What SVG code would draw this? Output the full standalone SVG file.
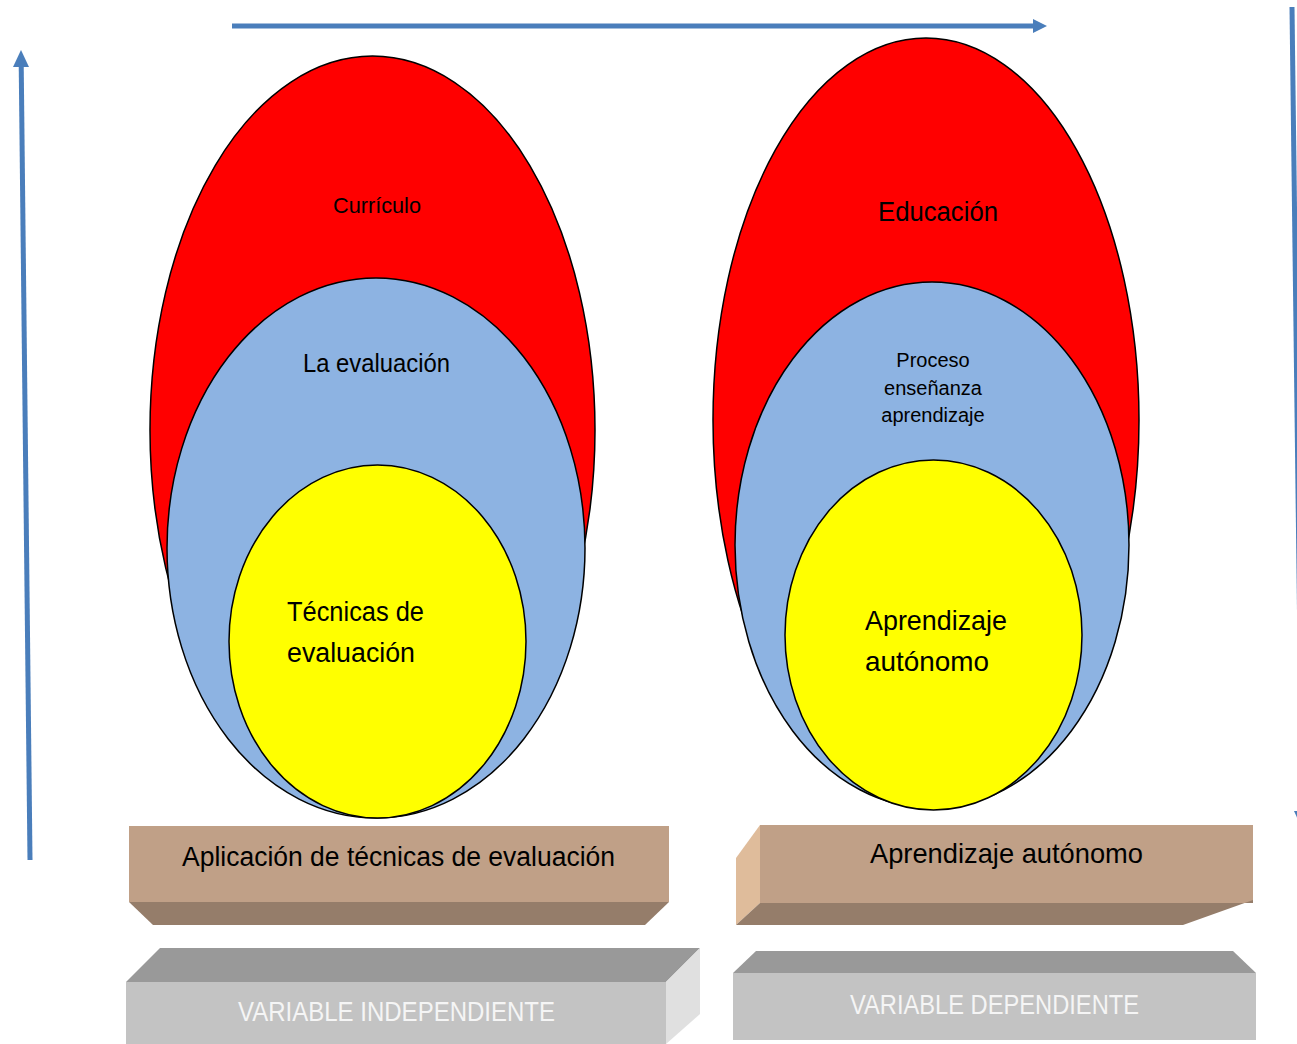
<svg xmlns="http://www.w3.org/2000/svg" width="1297" height="1044" viewBox="0 0 1297 1044">
<style>
.t{font-family:"Liberation Sans",Arial,sans-serif;fill:#000}
.c{text-anchor:middle}
.red{fill:#ff0000;stroke:#000;stroke-width:1.5}
.blue{fill:#8db3e2;stroke:#000;stroke-width:1.5}
.yel{fill:#ffff00;stroke:#000;stroke-width:1.5}
.arrow{stroke:#4a7ebb;stroke-width:5;fill:none}
.head{fill:#4a7ebb}
.front{fill:#c0a087}
.bev{fill:#957d6a}
.side{fill:#dfbc9b}
.gtop{fill:#999999}
.gfront{fill:#c3c3c3}
.gside{fill:#e0e0e0}
.w{font-family:"Liberation Sans",Arial,sans-serif;fill:#f5f5f5}
</style>
<rect width="1297" height="1044" fill="#fff"/>
<g id="connectors">
<line class="arrow" x1="30" y1="860" x2="21.2" y2="64"/>
<polygon class="head" points="21,50 29,67 13,67"/>
<line class="arrow" x1="232" y1="26" x2="1034" y2="26"/>
<polygon class="head" points="1047,26 1033,19 1033,33"/>
<line class="arrow" x1="1292" y1="7" x2="1302" y2="812"/>
<polygon class="head" points="1302,828 1294,811 1310,811"/>
</g>
<g id="left-circles">
<ellipse id="curriculo" class="red" cx="372.5" cy="430" rx="222.5" ry="374"/>
<ellipse id="evaluacion" class="blue" cx="376" cy="548" rx="209" ry="270"/>
<ellipse id="tecnicas" class="yel" cx="377.5" cy="641.5" rx="148.5" ry="176.5"/>
<text class="t c" x="377" y="213" font-size="22" textLength="88" lengthAdjust="spacingAndGlyphs">Currículo</text>
<text class="t c" x="376.5" y="372" font-size="25" textLength="147" lengthAdjust="spacingAndGlyphs">La evaluación</text>
<text class="t" x="287" y="621" font-size="27" textLength="137" lengthAdjust="spacingAndGlyphs">Técnicas de</text>
<text class="t" x="287" y="662" font-size="27" textLength="128" lengthAdjust="spacingAndGlyphs">evaluación</text>
</g>
<g id="right-circles">
<ellipse id="educacion" class="red" cx="926" cy="420" rx="213" ry="382"/>
<ellipse id="proceso" class="blue" cx="932" cy="545" rx="197" ry="263"/>
<ellipse id="aprendizaje" class="yel" cx="933.5" cy="635" rx="148.5" ry="175"/>
<text class="t c" x="938" y="221" font-size="27" textLength="120" lengthAdjust="spacingAndGlyphs">Educación</text>
<text class="t c" x="933" y="367" font-size="20">Proceso</text>
<text class="t c" x="933" y="395" font-size="20">enseñanza</text>
<text class="t c" x="933" y="422" font-size="20">aprendizaje</text>
<text class="t" x="865" y="630" font-size="28" textLength="142" lengthAdjust="spacingAndGlyphs">Aprendizaje</text>
<text class="t" x="865" y="671" font-size="28" textLength="124" lengthAdjust="spacingAndGlyphs">autónomo</text>
</g>
<g id="box-aplicacion">
<rect class="front" x="129" y="826" width="540" height="76"/>
<polygon class="bev" points="129,902 669,902 645,925 153,925"/>
<text class="t c" x="398.5" y="866" font-size="27" textLength="433" lengthAdjust="spacingAndGlyphs">Aplicación de técnicas de evaluación</text>
</g>
<g id="box-aprendizaje">
<polygon class="side" points="736,858 760,825 760,903 736,925"/>
<rect class="front" x="760" y="825" width="493" height="78"/>
<polygon class="bev" points="736,925 760,903 1253,903 1253,900 1183,925"/>
<text class="t c" x="1006.5" y="863" font-size="28" textLength="273" lengthAdjust="spacingAndGlyphs">Aprendizaje autónomo</text>
</g>
<g id="box-independiente">
<polygon class="gtop" points="126,982 666,982 700,948 160,948"/>
<rect class="gfront" x="126" y="982" width="540" height="62"/>
<polygon class="gside" points="666,982 700,948 700,1014 666,1044"/>
<text class="w c" x="396.5" y="1021" font-size="27" textLength="317" lengthAdjust="spacingAndGlyphs">VARIABLE INDEPENDIENTE</text>
</g>
<g id="box-dependiente">
<polygon class="gtop" points="733,973 1256,973 1233,951 756,951"/>
<rect class="gfront" x="733" y="973" width="523" height="67"/>
<text class="w c" x="994.5" y="1014" font-size="27" textLength="289" lengthAdjust="spacingAndGlyphs">VARIABLE DEPENDIENTE</text>
</g>
</svg>
